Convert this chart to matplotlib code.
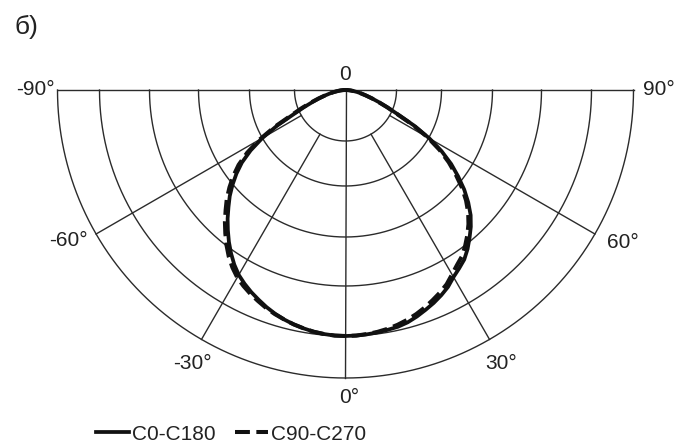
import numpy as np
import matplotlib
matplotlib.use("Agg")
import matplotlib.pyplot as plt

plt.rcParams['font.family'] = ['Liberation Sans', 'DejaVu Sans']

# ---- data (angle from nadir, degrees; intensity in chart radial units) ----
angles = [-90, -87.5, -85, -82.5, -80, -77.5, -75, -72.5, -70, -67.5, -65, -62.5,
          -60, -57.5, -55, -52.5, -50, -47.5, -45, -42.5, -40, -37.5, -35, -32.5,
          -30, -27.5, -25, -22.5, -20, -17.5, -15, -12.5, -10, -7.5, -5, -2.5,
          0,
          2.5, 5, 7.5, 10, 12.5, 15, 17.5, 20, 22.5, 25, 27.5, 30,
          32.5, 35, 37.5, 40, 42.5, 45, 47.5, 50, 52.5, 55, 57.5, 60,
          62.5, 65, 67.5, 70, 72.5, 75, 77.5, 80, 82.5, 85, 87.5, 90]
c0_c180 = [0, 2.5, 5, 8, 12, 16, 21, 27.5, 35, 45, 57, 77,
           96, 112.5, 126.5, 137.5, 147.5, 157, 165.5, 174.5, 183, 191.5, 199.5, 207,
           213.5, 218.5, 223, 227, 231, 234.5, 237.5, 240, 242, 243.8, 245, 245.8,
           246,
           245.8, 245.3, 244.5, 243.5, 242.5, 240.5, 237.5, 234, 230.5, 226.5, 222, 216,
           211.5, 207, 200.5, 193, 185.5, 177, 166.5, 155, 142, 129, 114, 97,
           78, 58, 45.5, 35.5, 27.5, 21, 16, 12, 8, 5, 2.5, 0]
c90_c270 = [0, 2.5, 5, 8, 12, 16, 21.5, 28.5, 37, 47.5, 60, 80,
            99.5, 116.5, 130.5, 141.5, 151.5, 161, 169.5, 178.5, 187, 195.5, 203.5, 210.5,
            216.5, 221, 225, 228.5, 232, 235, 237.5, 240, 242, 243.8, 245, 245.8,
            246,
            245.8, 245, 244, 242.5, 240.5, 238, 235, 231.5, 227.5, 223.5, 219, 213,
            207.5, 203, 196.5, 189.5, 182, 173.5, 163.5, 152, 139, 126, 111.5, 95,
            76.5, 57, 45, 35, 27.5, 21, 16, 12, 8, 5, 2.5, 0]
ring_radii = [51, 96, 147, 196, 246, 288]
r_max = 288
spoke_angles = [-60, -30, 30, 60]
angle_labels = ["-90°", "90°", "-60°", "60°", "-30°", "30°", "0°", "0"]
series_names = ["C0-C180", "C90-C270"]

W, H = 691, 444
fig = plt.figure(figsize=(W / 100, H / 100), dpi=100)
cx, cy, R = 345.5, 90, 288
# polar axes keep a square box; the half-disc is centred vertically in it
box_cy = cy + R / 2
ax = fig.add_axes([(cx - R) / W, (H - (box_cy + R)) / H, 2 * R / W, 2 * R / H],
                  projection='polar')
ax.set_theta_zero_location('S')
ax.set_theta_direction(1)
ax.set_thetamin(-90)
ax.set_thetamax(90)
ax.set_rlim(0, r_max)
ax.set_axis_off()

gc = '#2b2b2b'
glw = 1.0
th = np.radians(np.linspace(-90, 90, 721))
for r in ring_radii:
    ax.plot(th, np.full_like(th, r), color=gc, lw=glw, clip_on=False, zorder=1)
for a in (-90, 0, 90):
    ax.plot([np.radians(a)] * 2, [0, r_max], color=gc, lw=glw, clip_on=False, zorder=1)
for a in spoke_angles:
    ax.plot([np.radians(a)] * 2, [ring_radii[0], r_max], color=gc, lw=glw, clip_on=False, zorder=1)

t = np.radians(angles)
l1, = ax.plot(t, c0_c180, color='#111111', lw=2.7, solid_joinstyle='round', clip_on=False, zorder=3)
l2, = ax.plot(t, c90_c270, color='#111111', lw=2.9, linestyle=(0, (3.7, 1.6)), clip_on=False, zorder=3)

def px(x, y):
    return x / W, 1 - y / H

fs = 15
tc = '#222222'
fig.text(*px(14, 27), "б)", fontsize=19, ha='left', va='center', color=tc)
fig.text(*px(55, 89), angle_labels[0], fontsize=fs, ha='right', va='center', color=tc)
fig.text(*px(643, 89), angle_labels[1], fontsize=fs, ha='left', va='center', color=tc)
fig.text(*px(88, 240), angle_labels[2], fontsize=fs, ha='right', va='center', color=tc)
fig.text(*px(607, 242), angle_labels[3], fontsize=fs, ha='left', va='center', color=tc)
fig.text(*px(212, 363), angle_labels[4], fontsize=fs, ha='right', va='center', color=tc)
fig.text(*px(485, 363), angle_labels[5], fontsize=fs, ha='left', va='center', color=tc)
fig.text(*px(349, 397), angle_labels[6], fontsize=fs, ha='center', va='center', color=tc)
fig.text(*px(345, 75), angle_labels[7], fontsize=fs, ha='center', va='center', color=tc)

fig.legend([l1, l2], series_names, loc='center left', bbox_to_anchor=px(96, 434),
           ncol=2, frameon=False, borderpad=0, borderaxespad=0, handlelength=1.6,
           handletextpad=0.15, columnspacing=0.9, fontsize=fs, labelcolor=tc)

fig.savefig("out.png", dpi=100, facecolor='white')
